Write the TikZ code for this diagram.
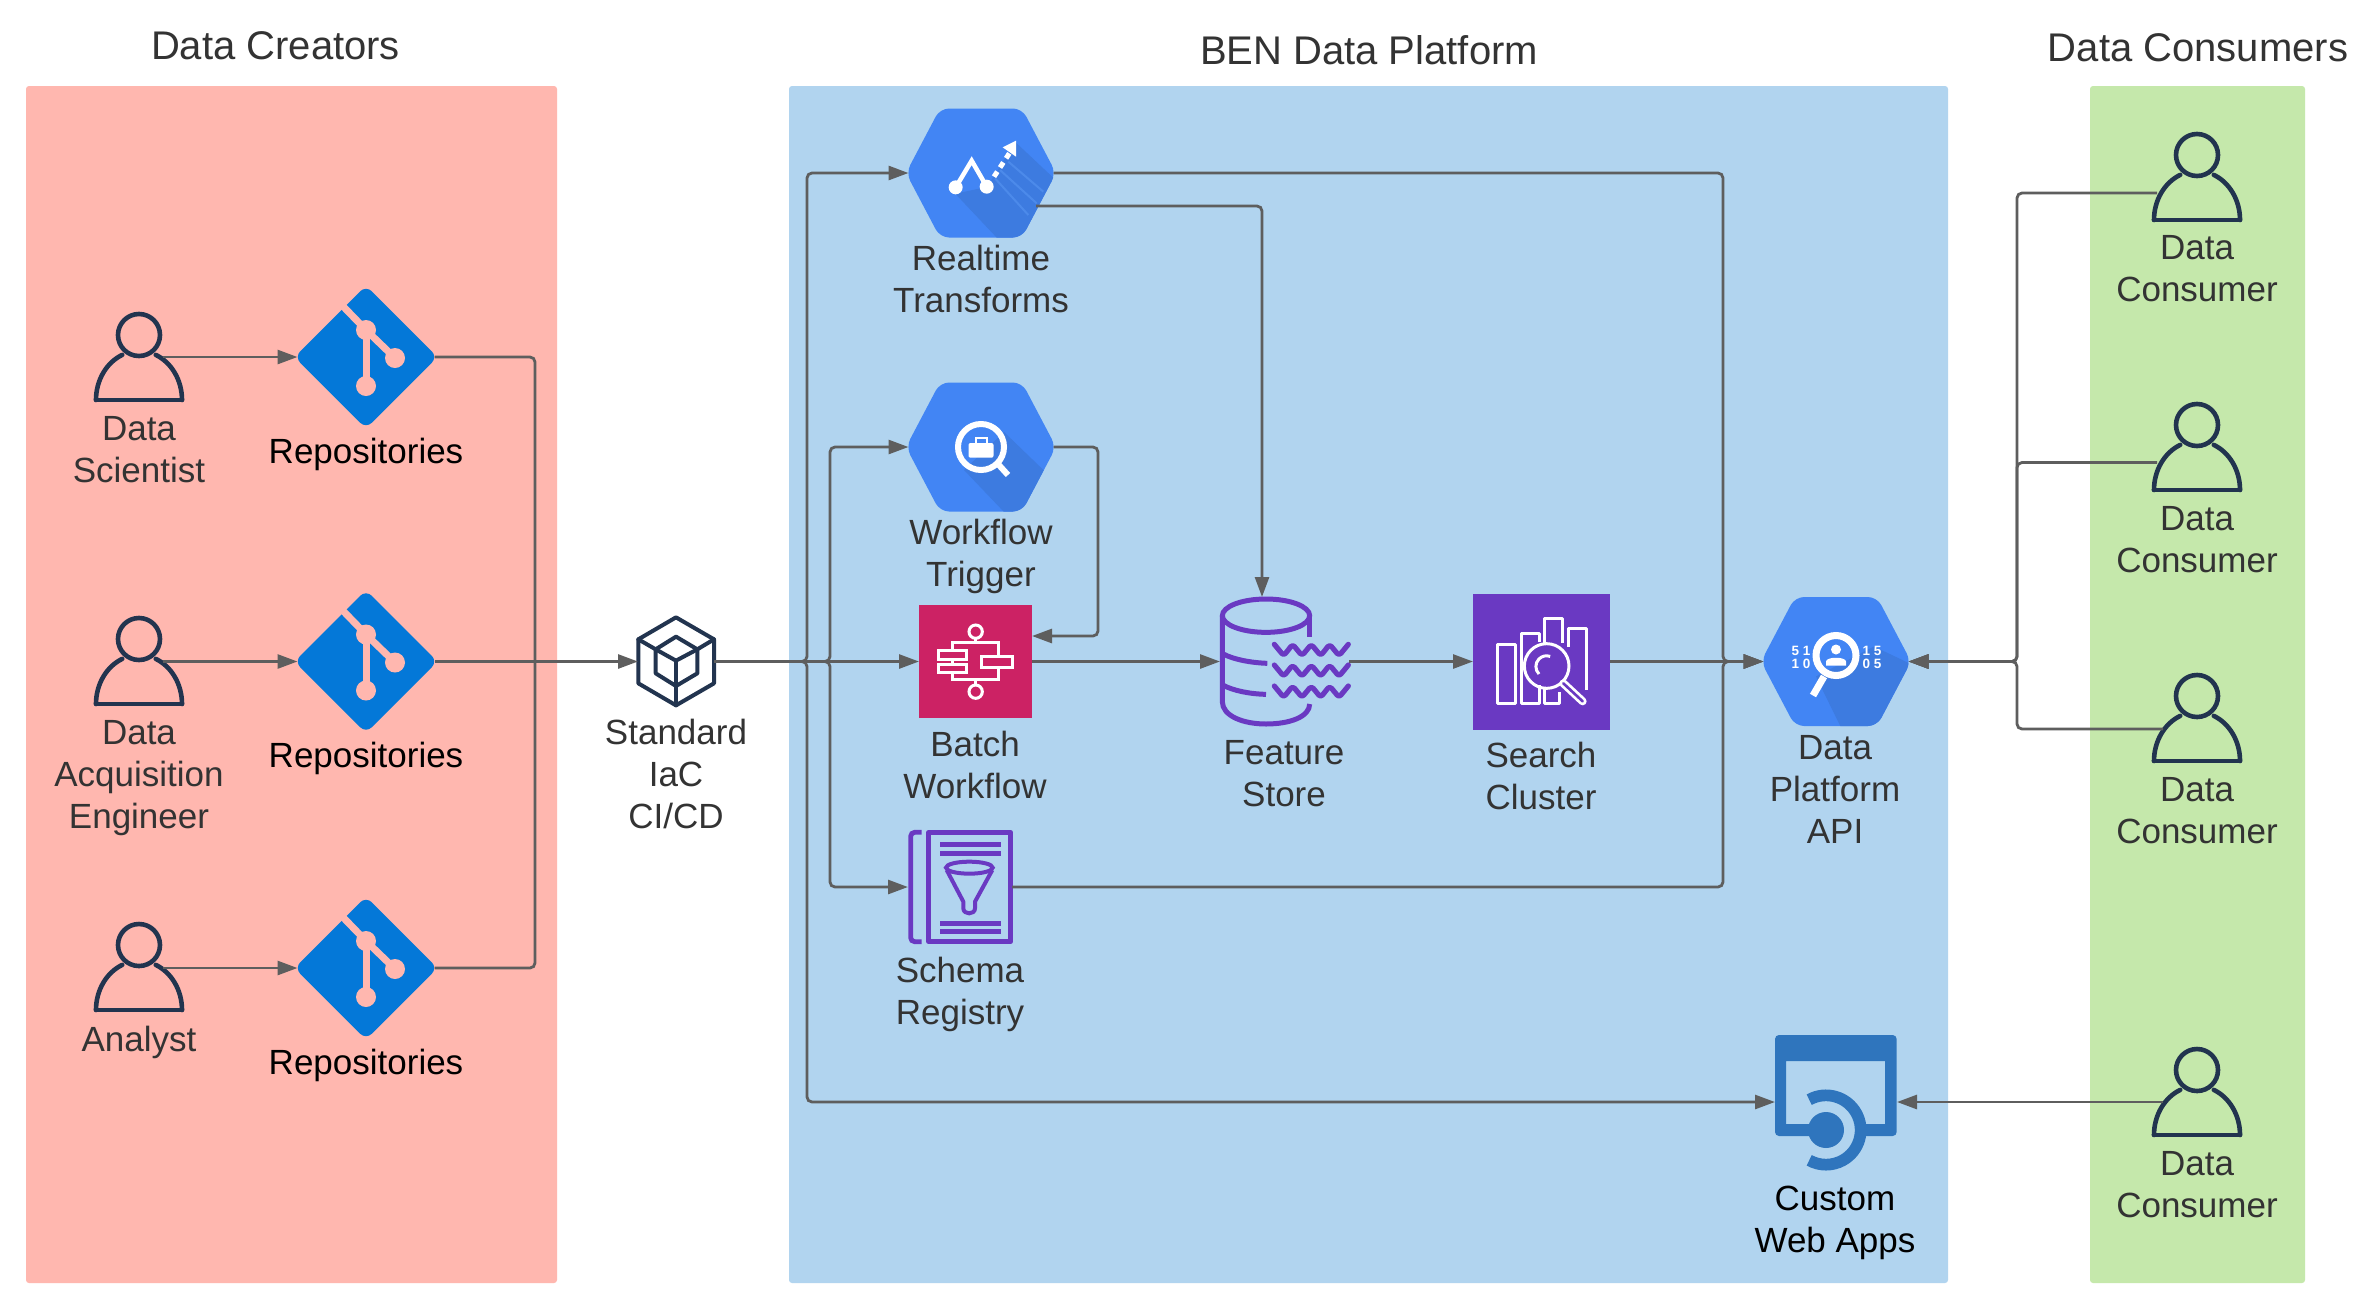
\documentclass[tikz,border=0pt]{standalone}
\usepackage{fontspec}
\setmainfont{Liberation Sans}
\usetikzlibrary{arrows.meta,calc}
\definecolor{redpanel}{HTML}{FFB7AF}
\definecolor{bluepanel}{HTML}{B1D4EF}
\definecolor{greenpanel}{HTML}{C5E8AB}
\definecolor{linec}{HTML}{5E5E5E}
\definecolor{navy}{HTML}{22344F}
\definecolor{gitblue}{HTML}{0478D8}
\definecolor{gcpblue}{HTML}{4285F4}
\definecolor{gcpdark}{HTML}{3D7BE0}
\definecolor{gcpstripe}{HTML}{4C8AEA}
\definecolor{purple}{HTML}{6A39C2}
\definecolor{crimson}{HTML}{CC2264}
\definecolor{webblue}{HTML}{2F75BD}
\definecolor{txt}{HTML}{333333}
\tikzset{
  x=1pt,y=-1pt,
  panel/.style={inner sep=0,outer sep=0,rounded corners=3pt},
  txtnode/.style={align=center,inner sep=0,outer sep=0,text=txt,font=\fontsize{35}{42}\selectfont},
  blacktxt/.style={txtnode,text=black},
  titletxt/.style={inner sep=0,outer sep=0,text=txt,font=\fontsize{40}{48}\selectfont},
  ghost/.style={inner sep=0,outer sep=0},
  link/.style={draw=linec,line width=2.8pt,rounded corners=5pt},
  flow/.style={link,-{Triangle[length=20pt,width=14pt]}},
  personline/.style={draw=navy,line width=4.6pt,line cap=round,line join=round},
  navyline/.style={draw=navy,line width=4pt,line join=round,line cap=round},
  purpleline/.style={draw=purple,line width=4.8pt},
  whiteline/.style={draw=white,line width=3pt},
  zf/.style args={#1,#2}{shift={(#1,#2)},x=0.333333pt,y=-0.333333pt},
}
\newcommand\personnode[5]{% name, x, line y, width, bottom y
  \node[ghost,minimum width=#4pt,minimum height=6pt] (#1) at (#2,#3) {};
  \begin{scope}[shift={(#2,#5)}]
    \draw[personline] (0,-65) circle[radius=21];
    \draw[personline] (-43,0) arc[start angle=180,end angle=247,x radius=43,y radius=49];
    \draw[personline] (43,0) arc[start angle=0,end angle=-67,x radius=43,y radius=49];
    \draw[personline] (-43,0) -- (43,0);
  \end{scope}}
\newcommand\gitnode[4]{% name, x, y, panel colour
  \node[ghost,minimum width=137pt,minimum height=20pt] (#1) at (#2,#3) {};
  \begin{scope}[shift={(#2,#3)}]
    \fill[gitblue,rounded corners=8pt] (-71.5,0) -- (0,-71.5) -- (71.5,0) -- (0,71.5) -- cycle;
    \draw[#4,line width=7pt] (-29,-57) -- (0,-27) -- (29,1);
    \draw[#4,line width=7pt] (0,-27) -- (0,29);
    \fill[#4] (0,-27) circle[radius=10] (29,1) circle[radius=10] (0,29) circle[radius=10];
  \end{scope}}
\newcommand\hexnode[4]{% name, x, y, shadow polygon
  \node[ghost,minimum width=145pt,minimum height=129pt] (#1) at (#2,#3) {};
  \begin{scope}[shift={(#2,#3)}]
    \fill[gcpblue,rounded corners=9pt] (-75,0) -- (-41,-64.5) -- (41,-64.5) -- (75,0) -- (41,64.5) -- (-41,64.5) -- cycle;
    \begin{scope}
      \clip[rounded corners=9pt] (-75,0) -- (-41,-64.5) -- (41,-64.5) -- (75,0) -- (41,64.5) -- (-41,64.5) -- cycle;
      \fill[gcpdark] #4;
    \end{scope}
  \end{scope}}
\begin{document}
\begin{tikzpicture}
\path[use as bounding box,fill=white] (0,0) rectangle (2362,1310);
% panels
\node[panel,fill=redpanel,minimum width=531pt,minimum height=1197pt] (creators) at (291.5,684.5) {};
\node[panel,fill=bluepanel,minimum width=1159pt,minimum height=1197pt] (platform) at (1368.5,684.5) {};
\node[panel,fill=greenpanel,minimum width=215pt,minimum height=1197pt] (consumers) at (2197.5,684.5) {};
% titles
\node[titletxt] (t1) at (275.5,46) {Data Creators};
\node[titletxt] (t2) at (1369,50) {BEN Data Platform};
\node[titletxt] (t3) at (2198,48) {Data Consumers};
% people, left
\personnode{pl1}{139}{357}{48}{400}
\personnode{pl2}{139}{661.5}{48}{704}
\personnode{pl3}{139}{968}{48}{1010}
% repositories
\gitnode{git1}{366}{357}{redpanel}
\gitnode{git2}{366}{661.5}{redpanel}
\gitnode{git3}{366}{968}{redpanel}
% people, right
\personnode{pr1}{2197}{193}{80}{220}
\personnode{pr2}{2197}{462.5}{80}{490}
\personnode{pr3}{2197}{729}{68}{761}
\personnode{pr4}{2197}{1102}{68}{1135}
% cube
\node[ghost,minimum width=76pt,minimum height=89pt] (cube) at (676,661.5) {};
\begin{scope}[zf={610,600}]
  \draw[navyline] (198,52) -- (312,118) -- (312,250) -- (198,316) -- (85,250) -- (85,118) -- cycle;
  \draw[navyline] (198,110) -- (262,148) -- (262,220) -- (198,258) -- (137,220) -- (137,148) -- cycle;
  \draw[navyline] (85,118) -- (137,148) -- (198,182) -- (262,148) -- (312,118);
  \draw[navyline] (198,182) -- (198,316);
\end{scope}
% realtime
\hexnode{rt}{981}{173}{(-25.7,20.7) -- (17,66) -- (80,66) -- (80,12) -- (34.3,-31) -- (6,14) -- cycle}
\begin{scope}[zf={880,90}]
  \draw[gcpstripe,line width=2pt] (385,215) -- (490,305) (360,240) -- (470,340) (345,265) -- (445,375);
  \draw[white,line width=4.5pt] (227,292) -- (275,212) -- (320,290);
  \fill[white] (227,292) circle[radius=21] (320,290) circle[radius=21];
  \draw[white,line width=5pt,dash pattern=on 6pt off 5pt] (342,260) -- (388,190);
  \fill[white] (408,152) -- (368,172) -- (408,200) -- cycle;
\end{scope}
% workflow trigger
\hexnode{wf}{981}{447}{(-17,23) -- (24,66) -- (80,66) -- (80,40) -- (23,-15) -- cycle}
\begin{scope}[shift={(981,447)}]
  \draw[white,line width=6pt] (0,0) circle[radius=23];
  \draw[white,line width=6pt] (17,17) -- (27,28);
  \fill[white,rounded corners=2pt] (-12.5,-4) rectangle (12.5,10.7);
  \draw[white,line width=2pt] (-5.5,-4) -- (-5.5,-9.5) -- (5.5,-9.5) -- (5.5,-4);
\end{scope}
% batch workflow
\node[ghost,fill=crimson,minimum width=113pt,minimum height=113pt] (batch) at (975.5,661.5) {};
\begin{scope}[zf={880,580}]
  \draw[whiteline] (287,155) circle[radius=20] (287,335) circle[radius=20];
  \draw[whiteline] (287,175) -- (287,188) (218,212) -- (218,188) -- (355,188) -- (355,230);
  \draw[whiteline] (287,315) -- (287,298) (218,277) -- (218,298) -- (355,298) -- (355,262);
  \draw[whiteline] (218,237) -- (218,253);
  \draw[whiteline] (175,212) rectangle (260,237) (175,253) rectangle (260,277) (303,230) rectangle (398,262);
\end{scope}
% feature store
\node[ghost,minimum width=84pt,minimum height=129pt] (fsdb) at (1262,661.5) {};
\node[ghost,minimum width=76pt,minimum height=70pt] (fswave) at (1311,661.5) {};
\begin{scope}[zf={880,580}]
  \draw[purple,line width=5pt] (1158,107) ellipse[x radius=131,y radius=50];
  \draw[purple,line width=5pt] (1027,107) -- (1027,365) .. controls (1027,408) and (1090,432) .. (1158,432) .. controls (1230,432) and (1289,410) .. (1289,372);
  \draw[purple,line width=5pt] (1289,107) -- (1289,170);
  \draw[purple,line width=5pt] (1030,222) .. controls (1060,238) and (1110,248) .. (1162,250);
  \draw[purple,line width=5pt] (1030,316) .. controls (1060,332) and (1110,342) .. (1158,343);
  \foreach \rowy in {210,272,335}
    \draw[purple,line width=5.2pt,line join=round,line cap=round,rounded corners=3pt]
      (1183,\rowy-17) -- (1211,\rowy+17) -- (1238,\rowy-17) -- (1266,\rowy+17) -- (1294,\rowy-17) -- (1322,\rowy+17) -- (1349,\rowy-17) -- (1377,\rowy+17) -- (1405,\rowy-17);
\end{scope}
% search cluster
\node[ghost,fill=purple,minimum width=137pt,minimum height=136pt] (search) at (1541.5,661.5) {};
\begin{scope}[zf={1440,570}]
  \draw[whiteline,line join=round] (172,222) rectangle (226,400);
  \draw[whiteline,line join=round] (297,215) -- (297,190) -- (243,190) -- (243,400) -- (297,400) -- (297,345);
  \draw[whiteline,line join=round] (313,220) -- (313,146) -- (368,146) -- (368,220);
  \draw[whiteline,line join=round] (313,350) -- (313,400) -- (358,400) -- (358,365);
  \draw[whiteline,line join=round] (385,230) -- (385,175) -- (438,175) -- (438,360);
  \draw[whiteline] (320,288) circle[radius=67];
  \draw[white,line width=3pt] (297,312) arc[start angle=135,end angle=290,radius=32];
  \draw[white,line width=8pt,line cap=round] (370,340) -- (428,394);
  \draw[purple,line width=2.6pt,line cap=round] (370,340) -- (428,394);
\end{scope}
% data platform api
\hexnode{api}{1836}{661.5}{(-20,15) -- (5,66) -- (80,66) -- (80,5) -- (38,-15) -- cycle}
\begin{scope}[shift={(1836,661.5)}]
  \draw[white,line width=7pt] (0,-6) circle[radius=20];
  \draw[white,line width=7pt] (-12,15) -- (-23,34);
  \fill[white] (0,-12) circle[radius=5];
  \fill[white] (-10,4) -- (-10,0) .. controls (-10,-5) and (10,-5) .. (10,0) -- (10,4) -- cycle;
  \node[ghost,text=white,align=center,font=\bfseries\fontsize{13.5}{12.5}\selectfont] (apil) at (-35,-4) {5 1\\1 0};
  \node[ghost,text=white,align=center,font=\bfseries\fontsize{13.5}{12.5}\selectfont] (apir) at (36,-4) {1 5\\0 5};
\end{scope}
% schema registry
\node[ghost,minimum width=104pt,minimum height=112pt] (schema) at (960,887) {};
\begin{scope}[zf={880,580}]
  \draw[purpleline,rounded corners=4pt] (125,757) -- (92,757) -- (92,1085) -- (125,1085);
  \draw[purpleline,line join=round] (146,757) rectangle (392,1085);
  \draw[purple,line width=4.8pt] (180,793) -- (363,793) (180,820) -- (363,820) (180,1030) -- (363,1030) (180,1055) -- (363,1055);
  \draw[purple,line width=4pt] (268,863) ellipse[x radius=70,y radius=18];
  \draw[purple,line width=4pt,line join=round] (200,870) -- (250,965) -- (250,985) .. controls (250,1005) and (285,1005) .. (285,985) -- (285,965) -- (337,870);
\end{scope}
% custom web apps
\node[ghost,minimum width=122pt,minimum height=10pt] (web) at (1836,1102) {};
\begin{scope}[zf={1740,1010}]
  \fill[webblue,even odd rule,rounded corners=4pt] (105,75) rectangle (470,378) (138,153) [sharp corners] rectangle (435,342);
  \fill[bluepanel] (258,255) -- (258,465) arc[start angle=90,end angle=-90,radius=105] -- cycle;
  \fill[webblue] (258,360) circle[radius=54];
  \draw[webblue,line width=11.7pt] (258,360) ++(-119:104) arc[start angle=-119,end angle=119,radius=104];
\end{scope}
% connector junctions
\coordinate (mergeL) at (535,661.5);
\coordinate (busA) at (807,661.5);
\coordinate (busB) at (830,661.5);
\coordinate (busC) at (1723,661.5);
\coordinate (busR) at (2017,661.5);
\coordinate (rtlow) at (1036,206);
\coordinate (wfturn) at (1098,636);
\coordinate (batchin) at (1032,636);
% connectors
\draw[flow] (pl1.east) -- (git1.west);
\draw[flow] (pl2.east) -- (git2.west);
\draw[flow] (pl3.east) -- (git3.west);
\draw[link] (git1.east) -| (mergeL);
\draw[link] (git3.east) -| (mergeL);
\draw[flow] (git2.east) -- (cube.west);
\draw[flow] (cube.east) -- (batch.west);
\draw[flow] (cube.east) -- (busA) |- (rt.west);
\draw[flow] (cube.east) -- (busA) |- (web.west);
\draw[flow] (cube.east) -- (busB) |- (wf.west);
\draw[flow] (cube.east) -- (busB) |- (schema.west);
\draw[flow] (wf.east) -| (wfturn) -- (batchin);
\draw[flow] (rtlow) -| (fsdb.north);
\draw[flow] (batch.east) -- (fsdb.west);
\draw[flow] (fswave.east) -- (search.west);
\draw[flow] (search.east) -- (api.west);
\draw[flow] (rt.east) -| (busC) -- (api.west);
\draw[flow] (schema.east) -| (busC) -- (api.west);
\draw[flow] (pr1.west) -| (busR) -- (api.east);
\draw[flow] (pr2.west) -| (busR) -- (api.east);
\draw[flow] (pr3.west) -| (busR) -- (api.east);
\draw[flow] (pr4.west) -- (web.east);
% labels
\node[txtnode] (l1) at (139,453.5) {\strut Data\\\strut Scientist};
\node[blacktxt] (l2) at (366,455) {\strut Repositories};
\node[txtnode] (l3) at (139,778.5) {\strut Data\\Acquisition\\\strut Engineer};
\node[blacktxt] (l4) at (366,759) {\strut Repositories};
\node[txtnode] (l5) at (139,1043) {\strut Analyst};
\node[blacktxt] (l6) at (366,1066) {\strut Repositories};
\node[txtnode] (l7) at (676,778.5) {\strut Standard\\IaC\\\strut CI/CD};
\node[txtnode] (l8) at (981,283.5) {\strut Realtime\\\strut Transforms};
\node[txtnode] (l9) at (981,557.5) {\strut Workflow\\\strut Trigger};
\node[txtnode] (l10) at (975,769.5) {\strut Batch\\\strut Workflow};
\node[txtnode] (l11) at (1284,777.5) {\strut Feature\\\strut Store};
\node[txtnode] (l12) at (1541,780.5) {\strut Search\\\strut Cluster};
\node[txtnode] (l13) at (1835,793.5) {\strut Data\\Platform\\\strut API};
\node[txtnode] (l14) at (960,995.5) {\strut Schema\\\strut Registry};
\node[blacktxt] (l15) at (1835,1223.5) {\strut Custom\\\strut Web Apps};
\node[txtnode] (l16) at (2197,272.5) {\strut Data\\\strut Consumer};
\node[txtnode] (l17) at (2197,543.5) {\strut Data\\\strut Consumer};
\node[txtnode] (l18) at (2197,814.5) {\strut Data\\\strut Consumer};
\node[txtnode] (l19) at (2197,1188.5) {\strut Data\\\strut Consumer};
\end{tikzpicture}
\end{document}
